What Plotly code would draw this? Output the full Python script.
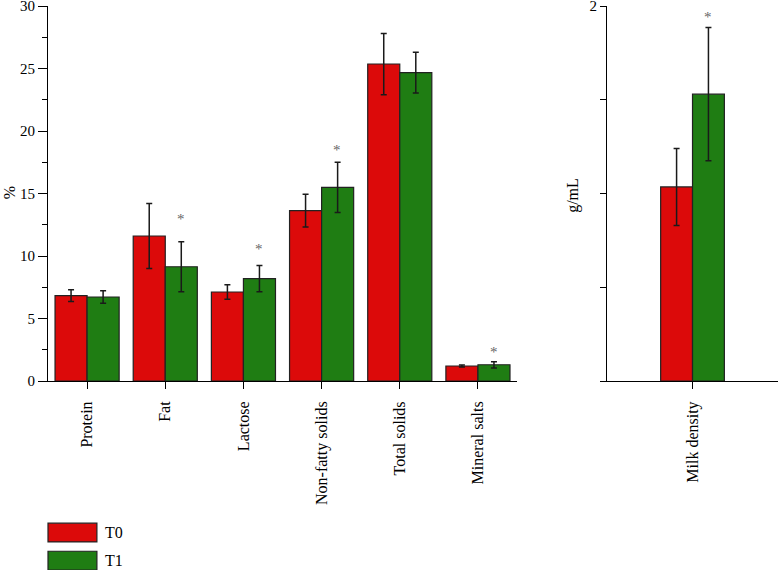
import plotly.graph_objects as go

# composition, %
categories = ["Protein", "Fat", "Lactose", "Non-fatty solids", "Total solids", "Mineral salts"]
t0_vals = [6.83, 11.6, 7.12, 13.63, 25.36, 1.2]
t0_err = [0.47, 2.6, 0.58, 1.3, 2.45, 0.08]
t1_vals = [6.72, 9.14, 8.19, 15.49, 24.67, 1.3]
t1_err = [0.5, 2.0, 1.05, 2.0, 1.63, 0.25]
star_cats = ["Fat", "Lactose", "Non-fatty solids", "Mineral salts"]
star_y = [13.0, 10.6, 18.5, 2.35]

# density, g/mL
dens_cat = ["Milk density"]
dens_t0 = [1.035]
dens_t0_err = [0.205]
dens_t1 = [1.53]
dens_t1_err = [0.355]
dens_star_y = [1.94]

red = "rgb(220,10,10)"
green = "rgb(31,125,19)"
edge = "#222222"
font = "Liberation Serif, Times New Roman, serif"

def err(a):
    return dict(type="data", array=a, color="#1a1a1a", thickness=1.5, width=3)

fig = go.Figure()
fig.add_bar(x=categories, y=t0_vals, error_y=err(t0_err), marker=dict(color=red, line=dict(color=edge, width=1.2)),
            name="T0", xaxis="x", yaxis="y")
fig.add_bar(x=categories, y=t1_vals, error_y=err(t1_err), marker=dict(color=green, line=dict(color=edge, width=1.2)),
            name="T1", xaxis="x", yaxis="y")
fig.add_bar(x=dens_cat, y=dens_t0, error_y=err(dens_t0_err), marker=dict(color=red, line=dict(color=edge, width=1.2)),
            name="T0", xaxis="x2", yaxis="y2", showlegend=False)
fig.add_bar(x=dens_cat, y=dens_t1, error_y=err(dens_t1_err), marker=dict(color=green, line=dict(color=edge, width=1.2)),
            name="T1", xaxis="x2", yaxis="y2", showlegend=False)

annots = []
for c, y in zip(star_cats, star_y):
    annots.append(dict(x=categories.index(c) + 0.2, y=y, xref="x", yref="y", text="*", showarrow=False,
                       font=dict(family=font, size=15, color="#666666")))
annots.append(dict(x=0.2, y=dens_star_y[0], xref="x2", yref="y2", text="*", showarrow=False,
                   font=dict(family=font, size=15, color="#666666")))

# axis titles
annots.append(dict(x=-0.0534, y=0.501, xref="paper", yref="paper", text="%", textangle=-90, showarrow=False,
                   xanchor="center", yanchor="middle", font=dict(family=font, size=16, color="black")))
annots.append(dict(x=0.719, y=0.496, xref="paper", yref="paper", text="g/mL", textangle=-90, showarrow=False,
                   xanchor="center", yanchor="middle", font=dict(family=font, size=16, color="black")))

# legend drawn by hand (large swatches)
legend_items = [("T0", red, -0.379), ("T1", green, -0.454)]
shapes = []
for name, col, ytop in legend_items:
    shapes.append(dict(type="rect", xref="paper", yref="paper", x0=0.0, x1=0.067, y0=ytop - 0.05, y1=ytop,
                       fillcolor=col, line=dict(color=edge, width=1.2)))
    annots.append(dict(x=0.076, y=ytop - 0.025, xref="paper", yref="paper", text=name, showarrow=False,
                       xanchor="left", yanchor="middle", font=dict(family=font, size=16, color="black")))

axis_common = dict(showline=True, linecolor="black", linewidth=1, showgrid=False, zeroline=False,
                   ticks="outside", tickcolor="black", ticklabeloverflow="allow", automargin=False,
                   tickfont=dict(family=font, size=16, color="black"))

fig.update_layout(
    width=778, height=570,
    margin=dict(l=48, r=0, t=6, b=189),
    font=dict(family=font, size=16, color="black"),
    paper_bgcolor="white", plot_bgcolor="white",
    barmode="group", bargap=0.18, bargroupgap=0,
    showlegend=False,
    xaxis=dict(axis_common, domain=[0, 0.6425], range=[-0.5, 5.5], tickangle=-90, ticklen=7,
               ticklabelstandoff=6),
    yaxis=dict(axis_common, range=[0, 30], tickvals=[0, 5, 10, 15, 20, 25, 30], ticklen=9,
               tickfont=dict(family=font, size=15, color="black"),
               minor=dict(dtick=2.5, ticks="outside", ticklen=5, tickcolor="black")),
    xaxis2=dict(axis_common, domain=[0.7658, 1], range=[-1.1, 1.1], tickangle=-90, ticklen=7, anchor="y2",
                ticklabelstandoff=6),
    yaxis2=dict(axis_common, range=[0, 2], tickvals=[0, 0.5, 1, 1.5, 2], ticktext=["", "", "", "", "2"],
                tickfont=dict(family=font, size=15, color="black"), ticklen=6, anchor="x2"),
    annotations=annots,
    shapes=shapes,
)

fig.write_html("out.html", config={"displayModeBar": False},
               post_script="document.body.style.margin='0';")
